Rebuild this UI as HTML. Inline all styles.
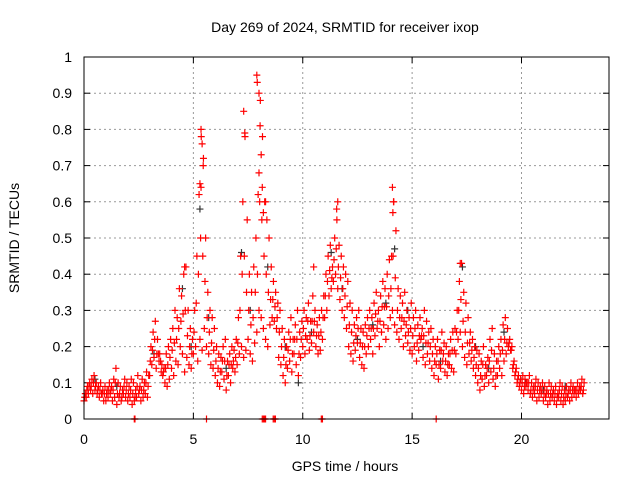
<!DOCTYPE html>
<html><head><meta charset="utf-8"><style>
body{margin:0;background:#fff}
svg{display:block;font-family:"Liberation Sans",sans-serif}
</style></head><body>
<svg id="chart" width="640" height="480" xmlns="http://www.w3.org/2000/svg">
<rect width="640" height="480" fill="#fff"/>
<text x="345" y="32" font-size="14" text-anchor="middle">Day 269 of 2024, SRMTID for receiver ixop</text>
<text transform="translate(19,238) rotate(-90)" font-size="14" text-anchor="middle">SRMTID / TECUs</text>
<text x="345" y="471" font-size="14" text-anchor="middle">GPS time / hours</text>
<g id="grid"></g>
<g id="marks"></g>
<rect x="84" y="57" width="525" height="362" fill="none" stroke="#000" stroke-width="1"/>
</svg>
<script>
const xTicks=[0,5,10,15,20];
const yTicks=[0,0.1,0.2,0.3,0.4,0.5,0.6,0.7,0.8,0.9,1];
const yTickLabels=["0","0.1","0.2","0.3","0.4","0.5","0.6","0.7","0.8","0.9","1"];
const redLow=[.05,.06,.07,.08,.07,.08,.07,.06,.07,.05,.05,.06,.07,.05,.06,.04,.06,.05,.07,.06,.05,.06,.04,.05,.06,.07,.05,.06,.07,.06,.12,.15,.17,.14,.18,.16,.12,.10,.09,.11,.14,.12,.16,.15,.20,.18,.13,.17,.15,.14,.18,.20,.16,.22,.19,.25,.20,.18,.15,.14,.12,.10,.09,.13,.11,.08,.12,.10,.14,.13,.15,.18,.20,.17,.19,.22,.18,.16,.21,.24,.30,.28,.25,.22,.20,.26,.28,.27,.25,.17,.15,.12,.10,.14,.16,.13,.18,.15,.12,.17,.20,.18,.22,.19,.21,.24,.20,.18,.19,.22,.28,.30,.34,.36,.38,.40,.36,.33,.30,.28,.25,.20,.18,.16,.19,.21,.17,.15,.14,.18,.20,.22,.18,.23,.25,.20,.24,.26,.22,.25,.28,.30,.26,.24,.22,.25,.20,.23,.21,.19,.18,.20,.16,.19,.22,.17,.15,.18,.16,.14,.12,.15,.11,.14,.16,.13,.12,.15,.14,.13,.18,.22,.24,.20,.17,.15,.18,.16,.14,.12,.10,.08,.11,.09,.12,.10,.13,.11,.09,.12,.14,.12,.16,.18,.20,.19,.14,.12,.10,.09,.08,.07,.09,.08,.07,.06,.07,.05,.06,.07,.05,.06,.04,.05,.06,.05,.04,.06,.05,.04,.05,.06,.05,.06,.07,.06,.07,.08,.07];
const redMid=[.06,.08,.09,.09,.10,.09,.08,.08,.07,.07,.07,.08,.08,.08,.10,.07,.07,.06,.09,.08,.07,.08,.07,.06,.09,.08,.08,.08,.10,.09,.16,.19,.22,.18,.16,.13,.13,.14,.15,.17,.19,.21,.22,.25,.27,.29,.30,.23,.20,.18,.24,.32,.40,.50,.45,.38,.28,.24,.21,.19,.16,.14,.13,.16,.16,.12,.15,.15,.16,.17,.21,.30,.40,.45,.35,.30,.26,.28,.35,.40,.60,.55,.45,.40,.35,.33,.33,.31,.28,.24,.20,.17,.15,.19,.22,.18,.22,.22,.18,.22,.25,.23,.27,.23,.27,.27,.23,.23,.24,.28,.34,.38,.41,.39,.44,.47,.42,.39,.36,.34,.31,.26,.24,.21,.23,.25,.21,.20,.20,.23,.25,.25,.25,.29,.27,.27,.31,.31,.31,.34,.36,.45,.39,.30,.28,.28,.27,.26,.24,.25,.23,.25,.21,.23,.23,.23,.21,.21,.20,.18,.16,.18,.15,.19,.18,.16,.15,.18,.19,.19,.24,.30,.33,.27,.24,.21,.21,.19,.17,.15,.14,.12,.15,.12,.14,.16,.19,.14,.12,.16,.18,.19,.22,.21,.21,.19,.15,.13,.11,.10,.10,.09,.10,.10,.08,.08,.09,.08,.08,.08,.07,.07,.07,.07,.07,.07,.06,.08,.07,.06,.07,.07,.08,.08,.08,.08,.08,.09,.08];
const redHigh=[.07,.09,.10,.11,.12,.10,.09,.10,.08,.09,.08,.10,.09,.11,.14,.10,.09,.08,.11,.10,.09,.11,.10,.08,.12,.09,.11,.10,.13,.12,.20,.24,.27,.22,.18,.15,.14,.18,.20,.22,.25,.30,.28,.36,.34,.40,.42,.30,.25,.22,.30,.45,.62,.78,.72,.50,.35,.30,.28,.25,.20,.18,.17,.20,.22,.16,.18,.20,.19,.22,.28,.45,.60,.78,.55,.40,.35,.42,.50,.62,.88,.78,.60,.55,.50,.42,.38,.35,.32,.30,.25,.22,.20,.24,.28,.22,.26,.30,.24,.27,.30,.28,.32,.27,.34,.30,.26,.28,.30,.34,.40,.45,.48,.42,.50,.55,.48,.45,.42,.40,.38,.32,.30,.26,.28,.30,.25,.24,.26,.28,.30,.28,.32,.35,.30,.34,.38,.36,.40,.44,.45,.60,.52,.36,.34,.32,.35,.30,.28,.32,.28,.30,.26,.28,.25,.30,.27,.24,.25,.22,.20,.22,.19,.24,.21,.20,.18,.22,.24,.25,.30,.38,.43,.35,.32,.28,.24,.22,.20,.19,.18,.16,.20,.15,.17,.22,.25,.18,.16,.20,.22,.26,.28,.25,.22,.20,.16,.14,.12,.11,.12,.11,.10,.12,.10,.09,.11,.10,.09,.10,.09,.08,.10,.09,.08,.09,.07,.10,.09,.08,.09,.08,.10,.09,.08,.10,.09,.11,.10];
const extraTimes=[5.35,5.4,5.45,5.3,5.35,7.3,7.35,7.9,7.92,8.0,8.05,8.1,8.0,8.15,8.3,8.2,11.6,11.55,14.1,14.15,14.12,4.6,10.5,17.2,2.3,2.33,5.6,8.15,8.2,8.25,8.3,8.65,8.7,8.75,10.85,10.9,16.1];
const extraValues=[.80,.76,.70,.65,.64,.85,.79,.95,.93,.90,.81,.73,.68,.64,.60,.57,.60,.58,.64,.60,.57,.42,.42,.43,0,0,0,0,0,0,0,0,0,0,0,0,0];
const blackTimes=[0.5,1.5,3.2,4.5,4.9,5.3,5.7,6.5,7.2,7.6,8.4,9.2,9.8,10.4,11.3,11.8,12.5,13.2,13.8,14.2,14.8,15.5,16.3,17.3,17.9,18.5,19.2,20.2,21.0,22.0];
const blackValues=[.11,.09,.18,.36,.2,.58,.28,.14,.46,.3,.42,.2,.1,.24,.46,.36,.22,.26,.32,.47,.3,.2,.16,.42,.2,.14,.24,.1,.08,.09];
const X0=84,X1=609,Y0=419,Y1=57,XMAX=24;
const sx=t=>X0+(X1-X0)*t/XMAX, sy=v=>Y0-(Y0-Y1)*v;
const NS="http://www.w3.org/2000/svg";
const grid=document.getElementById('grid'),marks=document.getElementById('marks');
function mk(tag,attrs,parent){const e=document.createElementNS(NS,tag);for(const k in attrs)e.setAttribute(k,attrs[k]);parent.appendChild(e);return e;}
yTicks.forEach((v,i)=>{const y=sy(v);
 if(i>0&&i<yTicks.length-1){const g=mk('line',{x1:X0,x2:X1,y1:y,y2:y,stroke:'#999','stroke-dasharray':'2,3'},grid);
 
 }
 mk('line',{x1:X0,x2:X0+6,y1:y,y2:y,stroke:'#000'},grid);
 mk('line',{x1:X1,x2:X1-6,y1:y,y2:y,stroke:'#000'},grid);
 const t=mk('text',{x:72,y:y+5,'font-size':14,'text-anchor':'end'},grid);t.textContent=yTickLabels[i];
 
 
});
xTicks.forEach(v=>{const x=sx(v);
 if(v>0){const g=mk('line',{x1:x,x2:x,y1:Y0,y2:Y1,stroke:'#999','stroke-dasharray':'2,3'},grid);
 
 }
 mk('line',{x1:x,x2:x,y1:Y0,y2:Y0-6,stroke:'#000'},grid);
 mk('line',{x1:x,x2:x,y1:Y1,y2:Y1+6,stroke:'#000'},grid);
 const t=mk('text',{x:x,y:444,'font-size':14,'text-anchor':'middle'},grid);t.textContent=String(v);
 
 
});
function plus(t,v,col,name){const x=sx(t),y=sy(v);
 const p=mk('path',{d:`M${x-3.5},${y}H${x+3.5}M${x},${y-3.5}V${y+3.5}`,stroke:col,'stroke-width':1.2,fill:'none'},marks);
 
 
}
blackTimes.forEach((t,i)=>plus(t,blackValues[i],'#333','black-point'));
redLow.forEach((v,i)=>plus(i*0.1,v,'#f00','red-point'));
redMid.forEach((v,i)=>plus(i*0.1+0.03,v,'#f00','red-point'));
redHigh.forEach((v,i)=>plus(i*0.1+0.06,v,'#f00','red-point'));
extraTimes.forEach((t,i)=>plus(t,extraValues[i],'#f00','red-point'));
</script>
</body></html>
